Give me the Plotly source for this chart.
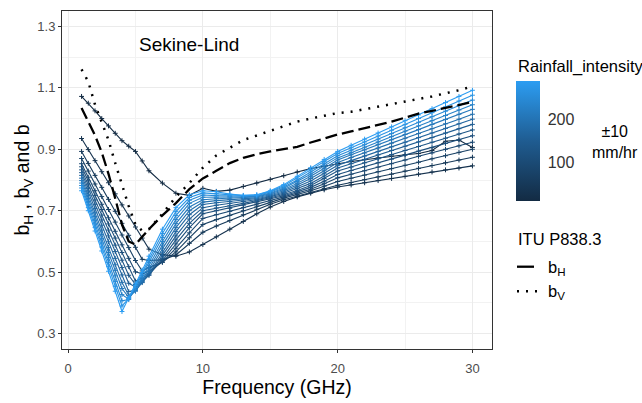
import plotly.graph_objects as go
from plotly.colors import sample_colorscale

# Frequency grid (GHz)
freq = [1, 1.5, 2, 2.5, 3, 3.5, 4, 4.5, 5, 5.5, 6,
        7, 8, 9, 10, 11, 12, 13, 14, 15, 16, 17, 18, 19, 20,
        21, 22, 23, 24, 25, 26, 27, 28, 29, 30]

# Rainfall intensity classes (mm/hr)
rain_intensity = [10, 30, 50, 70, 90, 110, 130, 150, 170, 190, 210, 230, 250, 270, 290]

# Sekine-Lind exponent b for each rainfall class
b_010 = [1.072, 1.05, 1.025, 1.0, .976, .952, .928, .91, .893, .862, .83,
         .79, .757, .75, .773, .763, .767, .779, .79, .802, .814, .826, .837, .845, .853,
         .86, .866, .872, .878, .882, .886, .896, .926, .93, .906]
b_030 = [.935, .899, .863, .827, .791, .755, .719, .683, .647, .611, .575,
         .557, .552, .566, .59, .615, .64, .665, .69, .712, .73, .745, .757, .768, .777,
         .784, .791, .798, .805, .812, .819, .826, .833, .839, .846]
b_050 = [.893, .854, .815, .776, .737, .698, .659, .620, .581, .542, .538,
         .54, .556, .594, .63, .65, .668, .687, .705, .721, .736, .748, .76, .772, .783,
         .792, .801, .81, .819, .829, .838, .847, .856, .865, .874]
b_070 = [.870, .829, .787, .746, .704, .663, .621, .580, .538, .504, .515,
         .532, .566, .612, .655, .671, .685, .70, .715, .728, .741, .753, .765, .78, .795,
         .806, .816, .827, .837, .848, .858, .869, .879, .89, .90]
b_090 = [.853, .809, .765, .721, .677, .633, .589, .545, .501, .495, .503,
         .533, .578, .628, .675, .687, .698, .71, .722, .733, .745, .757, .77, .788, .807,
         .819, .83, .842, .853, .865, .877, .888, .90, .911, .923]
b_110 = [.843, .797, .750, .704, .657, .611, .564, .518, .471, .480, .495,
         .538, .592, .645, .69, .70, .708, .718, .728, .738, .749, .762, .776, .796, .818,
         .831, .843, .856, .868, .881, .894, .906, .919, .931, .944]
b_130 = [.833, .784, .735, .686, .637, .588, .539, .490, .460, .472, .490,
         .545, .605, .659, .70, .709, .716, .724, .732, .742, .753, .766, .782, .805, .829,
         .842, .856, .869, .883, .896, .909, .923, .936, .95, .963]
b_150 = [.824, .773, .721, .670, .618, .567, .515, .464, .452, .468, .491,
         .554, .618, .673, .71, .718, .724, .73, .736, .746, .757, .772, .789, .813, .839,
         .853, .867, .882, .896, .91, .924, .938, .953, .967, .981]
b_170 = [.815, .761, .707, .653, .599, .545, .491, .437, .442, .466, .495,
         .565, .632, .687, .72, .726, .73, .735, .739, .749, .761, .778, .797, .822, .848,
         .863, .878, .893, .908, .923, .938, .953, .968, .983, .998]
b_190 = [.806, .750, .693, .637, .580, .524, .467, .424, .438, .469, .502,
         .576, .645, .70, .728, .733, .736, .739, .742, .752, .765, .784, .805, .83, .857,
         .873, .888, .904, .92, .936, .951, .967, .983, .998, 1.014]
b_210 = [.798, .740, .681, .623, .564, .506, .447, .418, .440, .475, .511,
         .588, .658, .712, .736, .739, .741, .743, .745, .755, .769, .789, .812, .838, .865,
         .882, .898, .915, .931, .948, .964, .981, .997, 1.014, 1.03]
b_230 = [.790, .730, .669, .609, .548, .488, .427, .413, .444, .482, .521,
         .60, .671, .724, .744, .744, .745, .745, .747, .758, .773, .795, .819, .846, .872,
         .889, .907, .924, .941, .959, .976, .993, 1.01, 1.028, 1.045]
b_250 = [.782, .720, .657, .595, .532, .470, .407, .411, .450, .490, .532,
         .613, .684, .734, .751, .749, .748, .747, .749, .761, .777, .80, .826, .853, .879,
         .897, .915, .933, .951, .97, .988, 1.006, 1.024, 1.042, 1.06]
b_270 = [.774, .710, .646, .582, .518, .454, .390, .414, .456, .499, .542,
         .626, .697, .743, .758, .755, .751, .749, .751, .763, .781, .806, .833, .86, .886,
         .905, .924, .943, .962, .981, 1.0, 1.019, 1.038, 1.057, 1.076]
b_290 = [.765, .700, .634, .569, .503, .438, .372, .417, .462, .507, .552,
         .64, .71, .752, .765, .762, .754, .75, .752, .765, .785, .812, .84, .867, .893,
         .913, .933, .953, .973, .993, 1.012, 1.032, 1.052, 1.072, 1.092]

rain_b = [b_010, b_030, b_050, b_070, b_090, b_110, b_130, b_150,
          b_170, b_190, b_210, b_230, b_250, b_270, b_290]

# ITU-R P.838-3 exponents
b_H = [1.034, .99, .945, .89, .82, .74, .655, .60, .59, .615, .64,
       .685, .725, .77, .805, .83, .855, .872, .884, .893, .90, .908, .922, .936, .948,
       .958, .968, .978, .99, 1.003, 1.016, 1.025, 1.034, 1.044, 1.054]
b_V = [1.16, 1.12, 1.045, .99, .93, .855, .785, .715, .655, .635, .64,
       .69, .745, .79, .84, .88, .905, .93, .945, .96, .975, .99, 1.0, 1.01, 1.018,
       1.022, 1.03, 1.04, 1.048, 1.055, 1.064, 1.072, 1.082, 1.092, 1.105]

FONT = "Liberation Sans, Arial, sans-serif"
W, H = 642, 403
L, R, T, B = 62, 150, 10, 48
PW, PH = W - L - R, H - T - B


def px(xp, yp):
    """Pixel position -> paper coordinates."""
    return (xp - L) / PW, (H - B - yp) / PH


cmin, cmax = 10, 290
cscale = [[0.0, "#132B43"], [0.5, "#1F5C91"], [1.0, "#2C9DF2"]]
line_cols = sample_colorscale(cscale, [(r - cmin) / (cmax - cmin) for r in rain_intensity])

fig = go.Figure()

for r, vals, col in zip(rain_intensity, rain_b, line_cols):
    fig.add_trace(go.Scatter(
        x=freq, y=vals, mode="lines+markers", name=f"{r} mm/hr",
        line=dict(color=col, width=1.1),
        marker=dict(symbol="cross-thin", size=3.5, line=dict(width=1, color=col), color=col),
        showlegend=False,
    ))

fig.add_trace(go.Scatter(x=freq, y=b_H, mode="lines", name="b_H",
                         line=dict(color="black", width=2.3, dash="12px,5px"),
                         showlegend=False))
fig.add_trace(go.Scatter(x=freq, y=b_V, mode="lines", name="b_V",
                         line=dict(color="black", width=2.5, dash="2px,7px"),
                         showlegend=False))

# carrier trace for the continuous colour scale
fig.add_trace(go.Scatter(x=[None], y=[None], mode="markers",
                         marker=dict(color=[cmin, cmax], coloraxis="coloraxis"),
                         showlegend=False, hoverinfo="skip"))

cbx, cby = px(516, 143)
fig.update_layout(
    coloraxis=dict(
        cmin=cmin, cmax=cmax, colorscale=cscale,
        colorbar=dict(
            x=cbx, xanchor="left", y=cby, yanchor="middle",
            thickness=24, len=120, lenmode="pixels",
            tickvals=[100, 200], ticks="outside", ticklen=5, tickcolor="rgba(0,0,0,0)",
            tickfont=dict(size=16, color="#333333", family=FONT),
            outlinewidth=0, xpad=0, ypad=0, title=dict(text=""),
        ),
    )
)

axis_common = dict(
    showline=True, linecolor="#333333", linewidth=1, mirror=True,
    ticks="outside", ticklen=3, tickcolor="#333333", tickwidth=1,
    gridcolor="#EBEBEB", gridwidth=1, zeroline=False,
    tickfont=dict(size=13, color="#4D4D4D", family=FONT),
)

fig.update_xaxes(
    range=[-0.45, 31.45], tickvals=[0, 10, 20, 30], ticklabelstandoff=4,
    minor=dict(dtick=5, tick0=0, showgrid=True, gridcolor="#F2F2F2", gridwidth=0.6),
    title=dict(text="Frequency (GHz)", font=dict(size=19.5, color="black", family=FONT), standoff=4),
    **axis_common,
)
fig.update_yaxes(
    range=[0.25, 1.35], tickvals=[0.3, 0.5, 0.7, 0.9, 1.1, 1.3],
    minor=dict(dtick=0.1, tick0=0.3, showgrid=True, gridcolor="#F2F2F2", gridwidth=0.6),
    title=dict(text="b<sub>H</sub> , b<sub>V</sub> and b",
               font=dict(size=19.5, color="black", family=FONT), standoff=2),
    **axis_common,
)

annotations = [
    dict(x=9, y=1.24, xref="x", yref="y", text="Sekine-Lind", showarrow=False,
         font=dict(size=19, color="black", family=FONT)),
]

ax, ay = px(516, 67)
annotations.append(dict(x=ax, y=ay, xref="paper", yref="paper", xanchor="left", yanchor="middle",
                        text="Rainfall_intensity", showarrow=False,
                        font=dict(size=16.5, color="black", family=FONT)))
ax, ay = px(615, 144)
annotations.append(dict(x=ax, y=ay, xref="paper", yref="paper", xanchor="center", yanchor="middle",
                        text="±10<br>mm/hr", showarrow=False, align="center",
                        font=dict(size=16, color="black", family=FONT)))
ax, ay = px(516, 243)
annotations.append(dict(x=ax, y=ay, xref="paper", yref="paper", xanchor="left", yanchor="middle",
                        text="ITU P838.3", showarrow=False,
                        font=dict(size=16.5, color="black", family=FONT)))
for ypos, lab in [(272, "b<sub>H</sub>"), (297, "b<sub>V</sub>")]:
    ax, ay = px(546, ypos)
    annotations.append(dict(x=ax, y=ay, xref="paper", yref="paper", xanchor="left", yanchor="middle",
                            text=lab, showarrow=False,
                            font=dict(size=16.5, color="black", family=FONT)))

shapes = []
x0, y0 = px(517, 271)
x1, _ = px(534, 271)
shapes.append(dict(type="line", xref="paper", yref="paper", x0=x0, x1=x1, y0=y0, y1=y0,
                   line=dict(color="black", width=2.3)))
x0, y0 = px(517, 296)
x1, _ = px(537, 296)
shapes.append(dict(type="line", xref="paper", yref="paper", x0=x0, x1=x1, y0=y0, y1=y0,
                   line=dict(color="black", width=2.5, dash="2px,7px")))

fig.update_layout(
    width=W, height=H,
    margin=dict(l=L, r=R, t=T, b=B),
    paper_bgcolor="white", plot_bgcolor="white",
    font=dict(family=FONT),
    annotations=annotations, shapes=shapes,
    showlegend=False,
)

fig.write_html("out.html")
